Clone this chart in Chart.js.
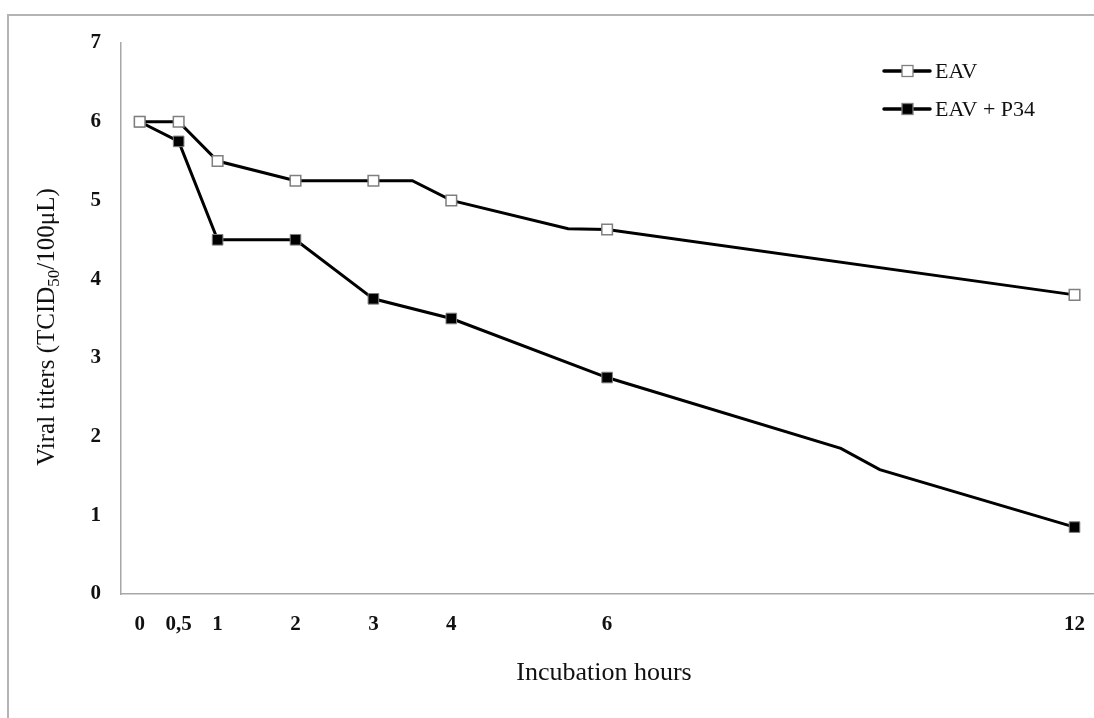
<!DOCTYPE html>
<html>
<head>
<meta charset="utf-8">
<script src="https://cdn.jsdelivr.net/npm/chart.js@4.4.1/dist/chart.umd.min.js"></script>
<style>
  html, body { margin: 0; padding: 0; background: #fff; }
  #wrap { position: relative; width: 1094px; height: 718px; }
  #frame { position: absolute; left: 7px; top: 14px; right: 0; bottom: 0;
           border-left: 2px solid #b4b4b4; border-top: 2px solid #b4b4b4; }
  canvas { position: absolute; left: 0; top: 0; }
</style>
</head>
<body>
<div id="wrap">
  <div id="frame"></div>
  <canvas id="titerChart" width="1094" height="718"></canvas>
</div>
<script>
// sampled hours (ticks / markers)
const tickHours = [0, 0.5, 1, 2, 3, 4, 6, 12];

// EAV alone (line vertices)
const eavHours  = [0, 0.5, 1, 2, 3, 3.5, 4, 5.5, 6, 12];
const eavTiters = [6, 6, 5.5, 5.25, 5.25, 5.25, 5.0, 4.64, 4.63, 3.8];

// EAV + P34
const p34Hours  = [0, 0.5, 1, 2, 3, 4, 6, 9, 9.5, 12];
const p34Titers = [6, 5.75, 4.5, 4.5, 3.75, 3.5, 2.75, 1.85, 1.58, 0.85];

const yTicks = [0, 1, 2, 3, 4, 5, 6, 7];

const serif = "'Liberation Serif', 'Times New Roman', serif";

const toPoints = (xs, ys) => xs.map((x, i) => ({ x: x, y: ys[i] }));
const markerRadius = (ctx) => (ctx.raw && tickHours.includes(ctx.raw.x) ? 7.5 : 0);

// axis titles + legend, drawn by hand so the subscript and legend spot match
const extras = {
  id: "extras",
  afterDraw(chart) {
    const c = chart.ctx;
    c.save();
    c.fillStyle = "#111";
    c.textBaseline = "middle";

    // x title
    c.font = "26px " + serif;
    c.textAlign = "center";
    c.fillText("Incubation hours", 604, 673);

    // y title with subscript
    c.translate(46, 327);
    c.rotate(-Math.PI / 2);
    c.textAlign = "left";
    c.textBaseline = "alphabetic";
    const parts = [
      { t: "Viral titers (TCID", f: "25px " + serif, dy: 0 },
      { t: "50", f: "17px " + serif, dy: 5 },
      { t: "/100\u03bcL)", f: "25px " + serif, dy: 0 },
    ];
    let total = 0;
    parts.forEach((p) => { c.font = p.f; p.w = c.measureText(p.t).width; total += p.w; });
    let x = -total / 2;
    parts.forEach((p) => { c.font = p.f; c.fillText(p.t, x, 8 + p.dy); x += p.w; });
    c.restore();

    // legend
    c.save();
    chart.data.datasets.forEach((ds, i) => {
      const y = 71 + i * 38;
      c.strokeStyle = ds.borderColor;
      c.lineWidth = 3.5;
      c.lineCap = "round";
      c.beginPath();
      c.moveTo(884, y);
      c.lineTo(930, y);
      c.stroke();
      c.fillStyle = ds.pointBackgroundColor;
      c.strokeStyle = ds.pointBorderColor;
      c.lineWidth = 1.3;
      c.fillRect(902, y - 5.5, 11, 11);
      c.strokeRect(902, y - 5.5, 11, 11);
      c.fillStyle = "#111";
      c.font = "22px " + serif;
      c.textAlign = "left";
      c.textBaseline = "middle";
      c.fillText(ds.label, 935, y + 1);
    });
    c.restore();
  },
};

new Chart(document.getElementById("titerChart"), {
  type: "line",
  data: {
    datasets: [
      {
        label: "EAV",
        data: toPoints(eavHours, eavTiters),
        borderColor: "#000",
        borderWidth: 3,
        pointStyle: "rect",
        pointRadius: markerRadius,
        pointBackgroundColor: "#fff",
        pointBorderColor: "#7f7f7f",
        pointBorderWidth: 1.5,
        tension: 0,
      },
      {
        label: "EAV + P34",
        data: toPoints(p34Hours, p34Titers),
        borderColor: "#000",
        borderWidth: 3,
        pointStyle: "rect",
        pointRadius: markerRadius,
        pointBackgroundColor: "#000",
        pointBorderColor: "#7f7f7f",
        pointBorderWidth: 1,
        tension: 0,
      },
    ],
  },
  options: {
    responsive: false,
    animation: false,
    layout: { autoPadding: false, padding: { top: 43, right: 0, left: 0, bottom: 0 } },
    plugins: { legend: { display: false }, tooltip: { enabled: false } },
    scales: {
      x: {
        type: "linear",
        min: -0.24,
        max: 12.25,
        afterBuildTicks: (s) => { s.ticks = tickHours.map((v) => ({ value: v })); },
        afterFit: (s) => { s.height = 124; s.paddingLeft = 0; s.paddingRight = 0; },
        grid: { display: false, drawTicks: false },
        border: { display: true, color: "#a8a8a8", width: 1.5 },
        ticks: {
          padding: 18,
          color: "#111",
          font: { family: serif, size: 21, weight: "bold" },
          maxRotation: 0,
          autoSkip: false,
          callback: (v) => String(v).replace(".", ","),
        },
      },
      y: {
        min: 0,
        max: 7,
        afterBuildTicks: (s) => { s.ticks = yTicks.map((v) => ({ value: v })); },
        afterFit: (s) => { s.width = 121; s.paddingTop = 0; s.paddingBottom = 0; },
        grid: { display: false, drawTicks: false },
        border: { display: true, color: "#a8a8a8", width: 1.5 },
        ticks: {
          padding: 20,
          color: "#111",
          font: { family: serif, size: 21, weight: "bold" },
        },
      },
    },
  },
  plugins: [extras],
});
</script>
</body>
</html>
